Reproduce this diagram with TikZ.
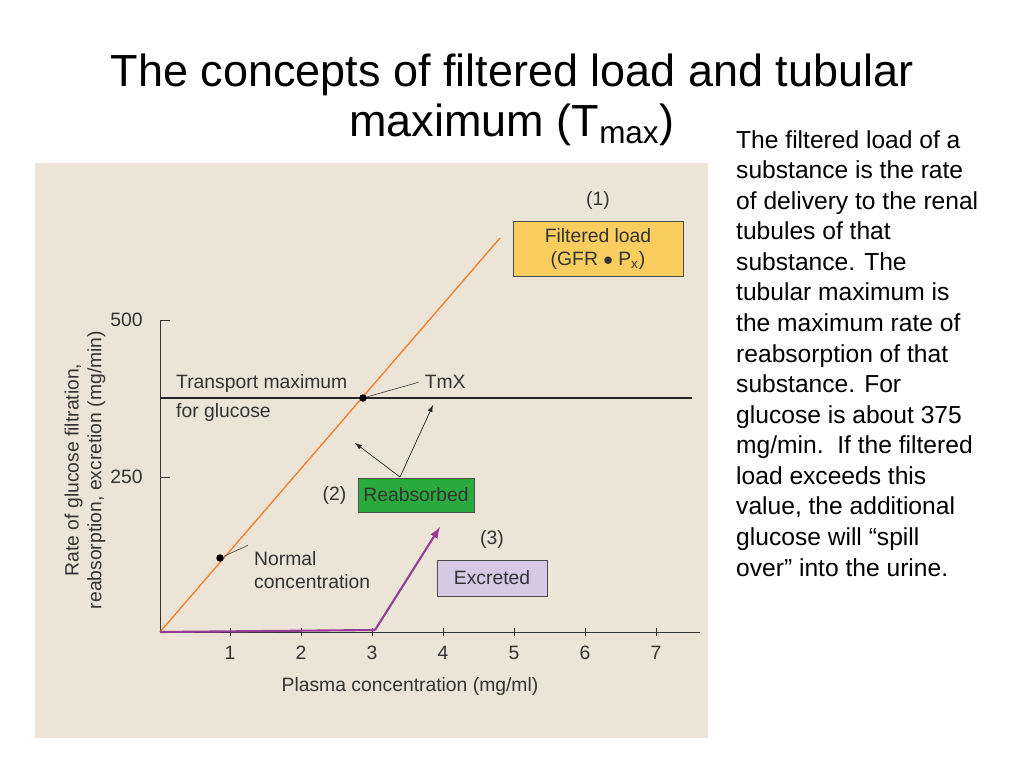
\documentclass[tikz,border=0pt]{standalone}
\usepackage{fontspec}
\setmainfont{Liberation Sans}
\usetikzlibrary{positioning}
\definecolor{paper}{RGB}{236,228,214}
\definecolor{loadorange}{RGB}{240,130,50}
\definecolor{boxyellow}{RGB}{250,205,95}
\definecolor{boxgreen}{RGB}{40,170,60}
\definecolor{boxlilac}{RGB}{215,200,230}
\definecolor{excpurple}{RGB}{150,60,150}
\tikzset{
  lbl/.style={font=\fontsize{11}{13}\selectfont, text=black!80},
  tag/.style={draw=black!70, lbl, align=center, inner sep=3pt},
  dot/.style={circle, fill=black, inner sep=1.5pt}
}
\begin{document}
\begin{tikzpicture}[x=0.02cm, y=-0.02cm, >=latex]

        % Frame and background
        \useasboundingbox (0,0) rectangle (1024,768);
        \fill[white] (0,0) rectangle (1024,768);
        \fill[paper] (35,163) rectangle (708,738);

        % Title
        \node (title1) at (512,75) {\fontsize{25.6}{30}\selectfont The concepts of filtered load and tubular};
        \node (title2) at (512,125) {\fontsize{25.6}{30}\selectfont maximum (T\textsubscript{max})};

        % Side text
        \node[anchor=north west, align=left, font=\fontsize{14}{17.4}\selectfont] (note) at (730,124) {The filtered load of a\\ substance is the rate\\ of delivery to the renal\\ tubules of that\\ substance. The\\ tubular maximum is\\ the maximum rate of\\ reabsorption of that\\ substance. For\\ glucose is about 375\\ mg/min.\ \ If the filtered\\ load exceeds this\\ value, the additional\\ glucose will ``spill\\ over'' into the urine.};

        % Axes
        \coordinate (org) at (160,632);
        \coordinate (ytop) at (160,320);
        \coordinate (xend) at (700,632);
        \draw[black!80] (ytop) -- (org) -- (xend);
        \draw[black!80] (160,320) -- (170,320) node[lbl, left=12pt] {500};
        \draw[black!80] (160,477) -- (170,477) node[lbl, left=12pt] {250};
        \foreach \i in {1,...,7}
          \draw[black!80] ({159+71*\i},628) -- ({159+71*\i},636) node[lbl, below=2pt] {\i};
        \node[lbl] (xlabel) at (410,686) {Plasma concentration (mg/ml)};
        \node[lbl, rotate=90, align=center] (ylabel) at (85,470) {Rate of glucose filtration,\\ reabsorption, excretion (mg/min)};

        % Transport maximum
        \draw[black!85, thick] (160,398) -- (692,398);
        \node[lbl, anchor=west, align=left] (tmlbl) at (170,398) {Transport maximum\\[4pt] for glucose};

        % Filtered load line
        \draw[loadorange, thick] (org) -- (500,238);
        \node[dot] (tmx) at (363,398) {};
        \node[lbl, above right=0pt and 30pt of tmx] (tmxlbl) {TmX};
        \draw[black!70] (tmx) -- (tmxlbl.west);
        \node[dot] (normal) at (220,558) {};
        \node[lbl, anchor=west, align=left] (normallbl) at (248,570) {Normal\\ concentration};
        \draw[black!70] (normal) -- (normallbl.north west);

        % Excretion line
        \draw[excpurple, very thick] (org) -- (375,630);
        \draw[excpurple, very thick, ->] (375,630) -- (440,527);

        % Boxes
        \node[tag, fill=boxyellow, minimum width=3.4cm, minimum height=1.1cm] (filtered) at (598,249) {Filtered load\\ (GFR $\bullet$ P\textsubscript{x})};
        \node[lbl, above=3pt of filtered] (n1) {(1)};
        \node[tag, fill=boxgreen, minimum width=2.15cm, minimum height=0.68cm] (reabs) at (416,495) {Reabsorbed};
        \node[lbl, left=3pt of reabs] (n2) {(2)};
        \node[tag, fill=boxlilac, minimum width=2.2cm, minimum height=0.72cm] (excr) at (492,578) {Excreted};
        \node[lbl, above=3pt of excr] (n3) {(3)};

        \coordinate (split) at (400,477);
        \draw[->, black!85] (split) -- (355,443);
        \draw[->, black!85] (split) -- (433,405);

      \end{tikzpicture}
\end{document}
